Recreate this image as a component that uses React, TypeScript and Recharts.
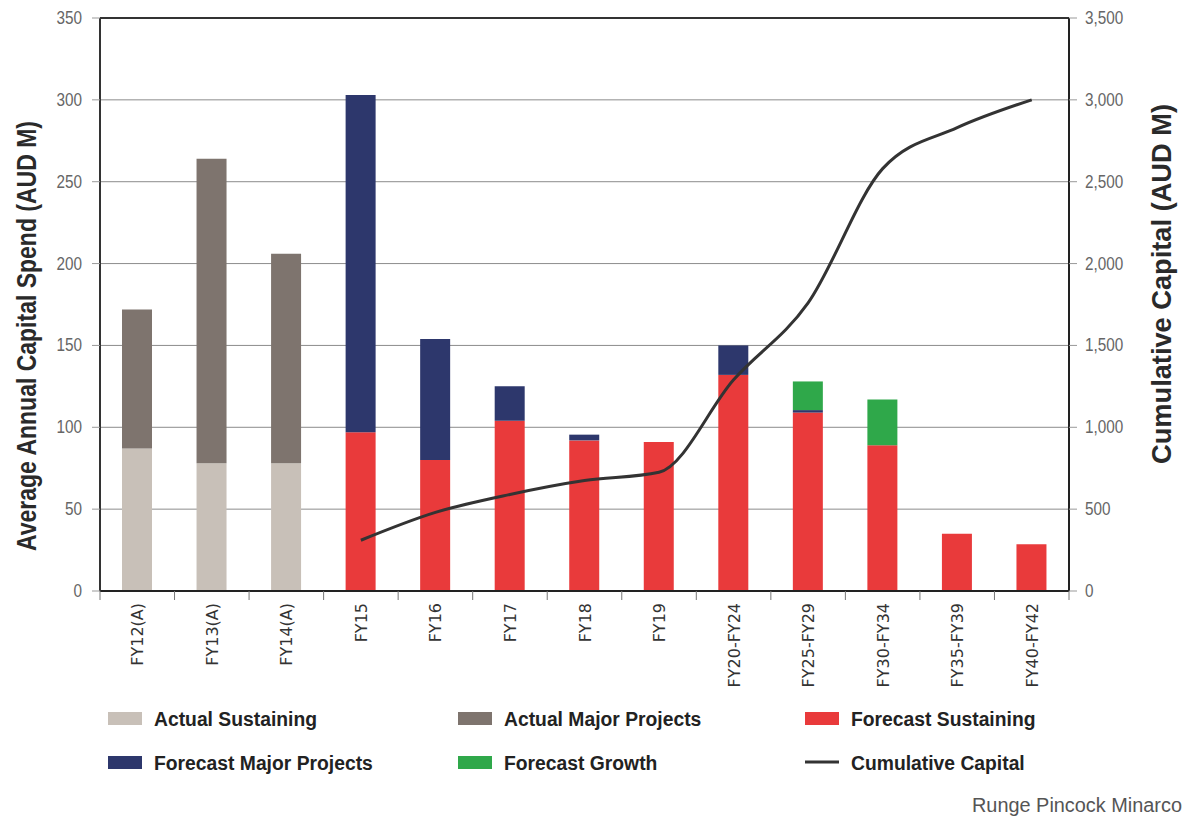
import { ComposedChart, Bar, Line, XAxis, YAxis, CartesianGrid, ReferenceLine } from 'recharts';

const categories = ['FY12(A)', 'FY13(A)', 'FY14(A)', 'FY15', 'FY16', 'FY17', 'FY18', 'FY19', 'FY20-FY24', 'FY25-FY29', 'FY30-FY34', 'FY35-FY39', 'FY40-FY42'];
const actualSustaining = [87, 78, 78, 0, 0, 0, 0, 0, 0, 0, 0, 0, 0];
const actualMajorProjects = [85, 186, 128, 0, 0, 0, 0, 0, 0, 0, 0, 0, 0];
const forecastSustaining = [0, 0, 0, 97, 80, 104, 92, 91, 132, 109, 89, 35, 28.5];
const forecastMajorProjects = [0, 0, 0, 206, 74, 21, 3.5, 0, 18, 1.5, 0, 0, 0];
const forecastGrowth = [0, 0, 0, 0, 0, 0, 0, 0, 0, 17.5, 28, 0, 0];
const cumulativeCapital = [null, null, null, 310, 480, 590, 675, 725, 1290, 1760, 2580, 2830, 3000];

const leftTicks = [0, 50, 100, 150, 200, 250, 300, 350];
const rightTicks = [0, 500, 1000, 1500, 2000, 2500, 3000, 3500];

const series = [
    { key: 'actualSustaining', name: 'Actual Sustaining', color: '#c8c0b8' },
    { key: 'actualMajorProjects', name: 'Actual Major Projects', color: '#7e746e' },
    { key: 'forecastSustaining', name: 'Forecast Sustaining', color: '#e93a3b' },
    { key: 'forecastMajorProjects', name: 'Forecast Major Projects', color: '#2d376c' },
    { key: 'forecastGrowth', name: 'Forecast Growth', color: '#2fa84a' },
];
const lineColor = '#333333';

const data = categories.map((name, i) => ({
    name,
    actualSustaining: actualSustaining[i],
    actualMajorProjects: actualMajorProjects[i],
    forecastSustaining: forecastSustaining[i],
    forecastMajorProjects: forecastMajorProjects[i],
    forecastGrowth: forecastGrowth[i],
    cumulative: cumulativeCapital[i],
}));

const W = 1192;
const PLOT_LEFT = 100;
const PLOT_RIGHT = 1069;
const BAND = (PLOT_RIGHT - PLOT_LEFT) / categories.length;
const SANS = "'Liberation Sans', Arial, sans-serif";

// no narrow font installed, so squeeze Liberation Sans horizontally
const NarrowText = ({ x, y, scale = 0.85, children, ...rest }: any) => (
    <g transform={`translate(${x},${y}) scale(${scale},1)`}>
        <text x={0} y={0} fontFamily={SANS} {...rest}>{children}</text>
    </g>
);

const XTick = ({ x, y, payload, index }: any) => {
    const axisY = y - 8;
    const last = index === categories.length - 1;
    return (
        <g>
            <line x1={x - BAND / 2} y1={axisY} x2={x - BAND / 2} y2={axisY + 9} stroke="#777" strokeWidth={1} />
            {last && <line x1={x + BAND / 2} y1={axisY} x2={x + BAND / 2} y2={axisY + 9} stroke="#777" strokeWidth={1} />}
            <text transform={`translate(${x + 6},${y + 4}) rotate(-90)`} textAnchor="end" fontFamily="'DejaVu Sans', sans-serif" fontSize={16} fill="#333">
                {payload.value}
            </text>
        </g>
    );
};

const LeftTick = ({ x, y, payload }: any) => (
    <NarrowText x={x} y={y + 6} scale={0.85} textAnchor="end" fontSize={18} fill="#666">{payload.value}</NarrowText>
);

const RightTick = ({ x, y, payload }: any) => (
    <NarrowText x={x} y={y + 6} scale={0.85} textAnchor="start" fontSize={18} fill="#666">{payload.value.toLocaleString('en-US')}</NarrowText>
);

// legend layout: 3 columns x 2 rows
const legendCols = [108, 458, 805];
const legendRows = [718, 762];
const legendItems = [...series.map(s => ({ name: s.name, color: s.color, line: false })), { name: 'Cumulative Capital', color: lineColor, line: true }];

export default function App() {
    return (
        <div style={{ position: 'absolute', left: 0, top: 0, width: W, height: 819, background: '#fff' }}>
            <ComposedChart width={W} height={700} data={data} margin={{ top: 18, right: 0, left: 0, bottom: 0 }} barSize={30}>
                <CartesianGrid yAxisId="left" vertical={false} stroke="#8c8c8c" strokeWidth={1} />
                <XAxis dataKey="name" interval={0} height={109} tickLine={false} tick={<XTick />} axisLine={{ stroke: '#222', strokeWidth: 2 }} />
                <YAxis
                    yAxisId="left"
                    domain={[0, 350]}
                    ticks={leftTicks}
                    width={100}
                    tickSize={8}
                    tickMargin={10}
                    tickLine={{ stroke: '#999' }}
                    axisLine={{ stroke: '#333', strokeWidth: 2 }}
                    tick={<LeftTick />}
                />
                <YAxis
                    yAxisId="right"
                    orientation="right"
                    domain={[0, 3500]}
                    ticks={rightTicks}
                    width={123}
                    tickSize={8}
                    tickMargin={8}
                    tickLine={{ stroke: '#999' }}
                    axisLine={{ stroke: '#222', strokeWidth: 2 }}
                    tick={<RightTick />}
                />
                <ReferenceLine yAxisId="left" y={350} stroke="#333" strokeWidth={2} />
                {series.map(s => (
                    <Bar key={s.key} yAxisId="left" dataKey={s.key} name={s.name} stackId="a" fill={s.color} isAnimationActive={false} />
                ))}
                <Line yAxisId="right" type="monotone" dataKey="cumulative" stroke={lineColor} strokeWidth={3} dot={false} isAnimationActive={false} />
            </ComposedChart>
            <svg width={W} height={819} style={{ position: 'absolute', left: 0, top: 0, pointerEvents: 'none' }}>
                <text transform="translate(36,336) rotate(-90)" textAnchor="middle" fontFamily={SANS} fontWeight="bold" fontSize={27}
                    textLength={430} lengthAdjust="spacingAndGlyphs" fill="#2a2a2a">
                    Average Annual Capital Spend (AUD M)
                </text>
                <text transform="translate(1171,284) rotate(-90)" textAnchor="middle" fontFamily={SANS} fontWeight="bold" fontSize={27}
                    textLength={360} lengthAdjust="spacingAndGlyphs" fill="#2a2a2a">
                    Cumulative Capital (AUD M)
                </text>
                {legendItems.map((item, i) => {
                    const x = legendCols[i % 3];
                    const y = legendRows[Math.floor(i / 3)];
                    return (
                        <g key={item.name}>
                            {item.line
                                ? <line x1={x} y1={y} x2={x + 34} y2={y} stroke={item.color} strokeWidth={3} />
                                : <rect x={x} y={y - 6} width={34} height={13} fill={item.color} />}
                            <NarrowText x={x + 46} y={y + 8} scale={0.92} fontWeight="bold" fontSize={21} fill="#222">{item.name}</NarrowText>
                        </g>
                    );
                })}
                <text x={1182} y={812} textAnchor="end" fontFamily={SANS} fontSize={20} textLength={210} lengthAdjust="spacingAndGlyphs" fill="#555">
                    Runge Pincock Minarco
                </text>
            </svg>
        </div>
    );
}
